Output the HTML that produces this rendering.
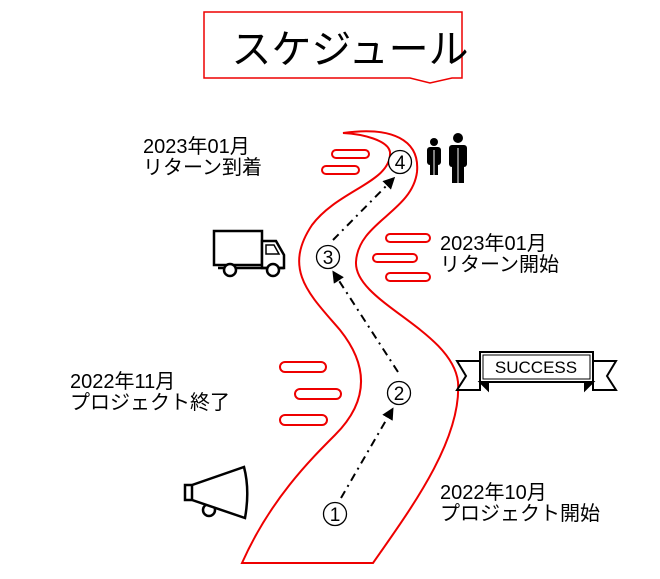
<!DOCTYPE html>
<html><head><meta charset="utf-8"><style>
body{margin:0;background:#fff;width:660px;height:574px;overflow:hidden}
svg text{font-family:"Liberation Sans","Noto Sans CJK JP",sans-serif;fill:#000}
</style></head><body>
<svg width="660" height="574" viewBox="0 0 660 574" xmlns="http://www.w3.org/2000/svg">
<defs><marker id="ah" markerWidth="12" markerHeight="12" refX="9" refY="6" orient="auto" markerUnits="userSpaceOnUse"><path d="M0,0 L12,6 L0,12 Z" fill="#000"/></marker></defs>
<!-- title -->
<path d="M204,12 H462 V78 H452 L430,83 L410,78 H204 Z" fill="#fff" stroke="#e00" stroke-width="1.5"/>
<text x="350" y="63" font-size="40" text-anchor="middle">スケジュール</text>
<!-- road -->
<path d="M242,563 C270,500 310,460 335,435 C365,405 372,370 340,330 C310,295 282,270 312,225 C338,190 392,182 390,152 C388,140 362,134 343,133 C392,126 420,140 417,172 C412,212 358,222 356,262 C354,302 452,330 458,382 C462,440 410,510 373,563 Z" fill="#fff" stroke="#e00" stroke-width="2"/>
<!-- bars -->
<g fill="#fff" stroke="#e00" stroke-width="2">
<rect x="332" y="150" width="37" height="8" rx="4"/>
<rect x="322" y="166" width="37" height="8" rx="4"/>
<rect x="386" y="234" width="44" height="8" rx="4"/>
<rect x="373" y="254" width="44" height="8" rx="4"/>
<rect x="386" y="273" width="44" height="8" rx="4"/>
<rect x="280" y="362" width="46" height="10" rx="5"/>
<rect x="295" y="389" width="46" height="10" rx="5"/>
<rect x="280" y="415" width="47" height="10" rx="5"/>
</g>
<!-- arrows -->
<g stroke="#000" stroke-width="2" stroke-dasharray="8,5,2,5" fill="none">
<line x1="341" y1="498" x2="392" y2="410" marker-end="url(#ah)"/>
<line x1="398" y1="372" x2="334" y2="273" marker-end="url(#ah)"/>
<line x1="333" y1="240" x2="393" y2="179" marker-end="url(#ah)"/>
</g>
<g fill="#fff" stroke="#000" stroke-width="1.3">
<circle cx="335" cy="514" r="11.5"/>
<circle cx="399" cy="393" r="11.5"/>
<circle cx="328" cy="257" r="11.5"/>
<circle cx="400" cy="162" r="11.5"/>
</g>
<g font-size="19" text-anchor="middle">
<text x="335" y="521">1</text>
<text x="399" y="400">2</text>
<text x="328" y="264">3</text>
<text x="400" y="169">4</text>
</g>
<!-- labels -->
<g font-size="20">
<text x="143" y="153">2023年01月</text><text x="143" y="174">リターン到着</text>
<text x="440" y="250">2023年01月</text><text x="440" y="271">リターン開始</text>
<text x="70" y="388">2022年11月</text><text x="70" y="409">プロジェクト終了</text>
<text x="440" y="499">2022年10月</text><text x="440" y="520">プロジェクト開始</text>
</g>
<!-- truck -->
<g stroke="#000" stroke-width="2.5" fill="#fff">
<rect x="214" y="231" width="48" height="34"/>
<path d="M262,241 H276 L284,255 V268 H262 Z"/>
<path d="M266,245 H274 L279,254 H266 Z" stroke-width="1.5"/>
<line x1="218" y1="268" x2="284" y2="268"/>
<circle cx="230" cy="270" r="6"/><circle cx="273" cy="270" r="6"/>
</g>
<!-- people -->
<g fill="#000">
<circle cx="434" cy="142" r="4"/><rect x="427" y="147" width="14" height="18" rx="3"/><rect x="430" y="163" width="8" height="12"/>
<circle cx="458" cy="138" r="5"/><rect x="449" y="145" width="18" height="22" rx="3"/><rect x="452" y="165" width="12" height="18"/>
</g>
<g stroke="#fff" stroke-width="1"><line x1="434" y1="150" x2="434" y2="175"/><line x1="458" y1="148" x2="458" y2="183"/></g>
<!-- megaphone -->
<g stroke="#000" stroke-width="2.5" fill="#fff">
<circle cx="209" cy="510" r="6"/>
<path d="M185,485 H192 L244,467 Q250,490 245,518 L192,500 H185 Z"/>
<line x1="192" y1="485" x2="192" y2="500"/>
</g>
<!-- success banner -->
<g stroke="#000" stroke-width="2" fill="#fff">
<path d="M457,361 H480 V390 H457 L466,376 Z"/>
<path d="M616,361 H593 V390 H616 L607,376 Z"/>
<path d="M480,382 L488,390 V382 Z" fill="#000"/><path d="M593,382 L585,390 V382 Z" fill="#000"/>
<rect x="480" y="352" width="113" height="30"/>
<rect x="483" y="355" width="107" height="24" fill="none" stroke-width="1"/>
</g>
<text x="536" y="373" font-size="17" text-anchor="middle">SUCCESS</text>
</svg>
</body></html>
